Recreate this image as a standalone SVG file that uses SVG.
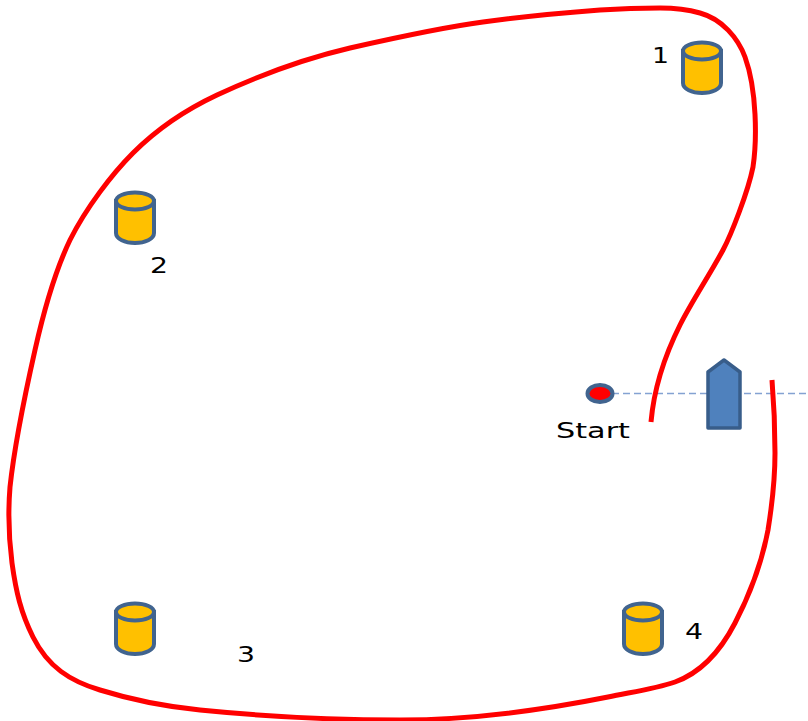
<svg xmlns="http://www.w3.org/2000/svg" width="808" height="721" viewBox="0 0 808 721">
<style>
.track{fill:none;stroke:#ff0000;stroke-width:5;stroke-linecap:butt}
.buoy{fill:#ffc000;stroke:#41648f;stroke-width:4}
.label{font-family:"DejaVu Sans",sans-serif;font-size:22px;fill:#000}
.dash{fill:none;stroke:#84a2d2;stroke-width:1.500;stroke-dasharray:7 4}
</style>
<defs>
<g id="can">
<path class="buoy" d="M-19-21V11C-19 17-10 21 0 21S19 17 19 11V-21Z"/>
<ellipse class="buoy" cx="0" cy="-21" rx="19" ry="8.500"/>
</g>
</defs>
<rect width="808" height="721" fill="#fff"/>
<g id="connectors">
<path class="dash" d="M612 393.500H808"/>
<path class="track" d="M651 422C654 388 666 353 680 325C692 301 709 276 723 250C731 235 748 192 753 167C757 140 757 90 745 57C738 38 722 19 700 13C686 9 675 8 660 8C640 8 620 8.700 600 10C560 13 520 17 483 22C438 28 394 38 350 48C305 58.500 260 75 217 95C185 110 157 129 133 153C112 174 86 208 70 240C57 267 44 310 35 350C26 390 15 440 10 487C8 512 8.500 536 12 563C16 592 21 613 33 637C48 667 70 681 100 690C132 700 165 706.500 200 710C265 716.500 330 720 400 720C470 720 540 710.600 608 697C632 692 655 689 675 682C700 673 720 652 735 623C750 594 762 562 768 530C772 505 775 480 775 453C775 428 774 404 772 380"/>
</g>
<g id="start"><ellipse cx="600" cy="393.500" rx="12.500" ry="8.500" fill="#ff0000" stroke="#41648f" stroke-width="4"/><text class="label" x="556" y="438" textLength="74" lengthAdjust="spacingAndGlyphs">Start</text></g>
<g id="boat"><path d="M708 372L724 360L740 372V428H708Z" fill="#4f81bd" stroke="#385d8a" stroke-width="3.500" stroke-linejoin="round"/></g>
<g id="buoy1"><use href="#can" x="702" y="72"/><text class="label" x="652" y="63" textLength="17" lengthAdjust="spacingAndGlyphs">1</text></g>
<g id="buoy2"><use href="#can" x="135" y="222"/><text class="label" x="150" y="273" textLength="18" lengthAdjust="spacingAndGlyphs">2</text></g>
<g id="buoy3"><use href="#can" x="135" y="633"/><text class="label" x="237" y="662" textLength="18" lengthAdjust="spacingAndGlyphs">3</text></g>
<g id="buoy4"><use href="#can" x="643" y="633"/><text class="label" x="685" y="639" textLength="18" lengthAdjust="spacingAndGlyphs">4</text></g>
</svg>
